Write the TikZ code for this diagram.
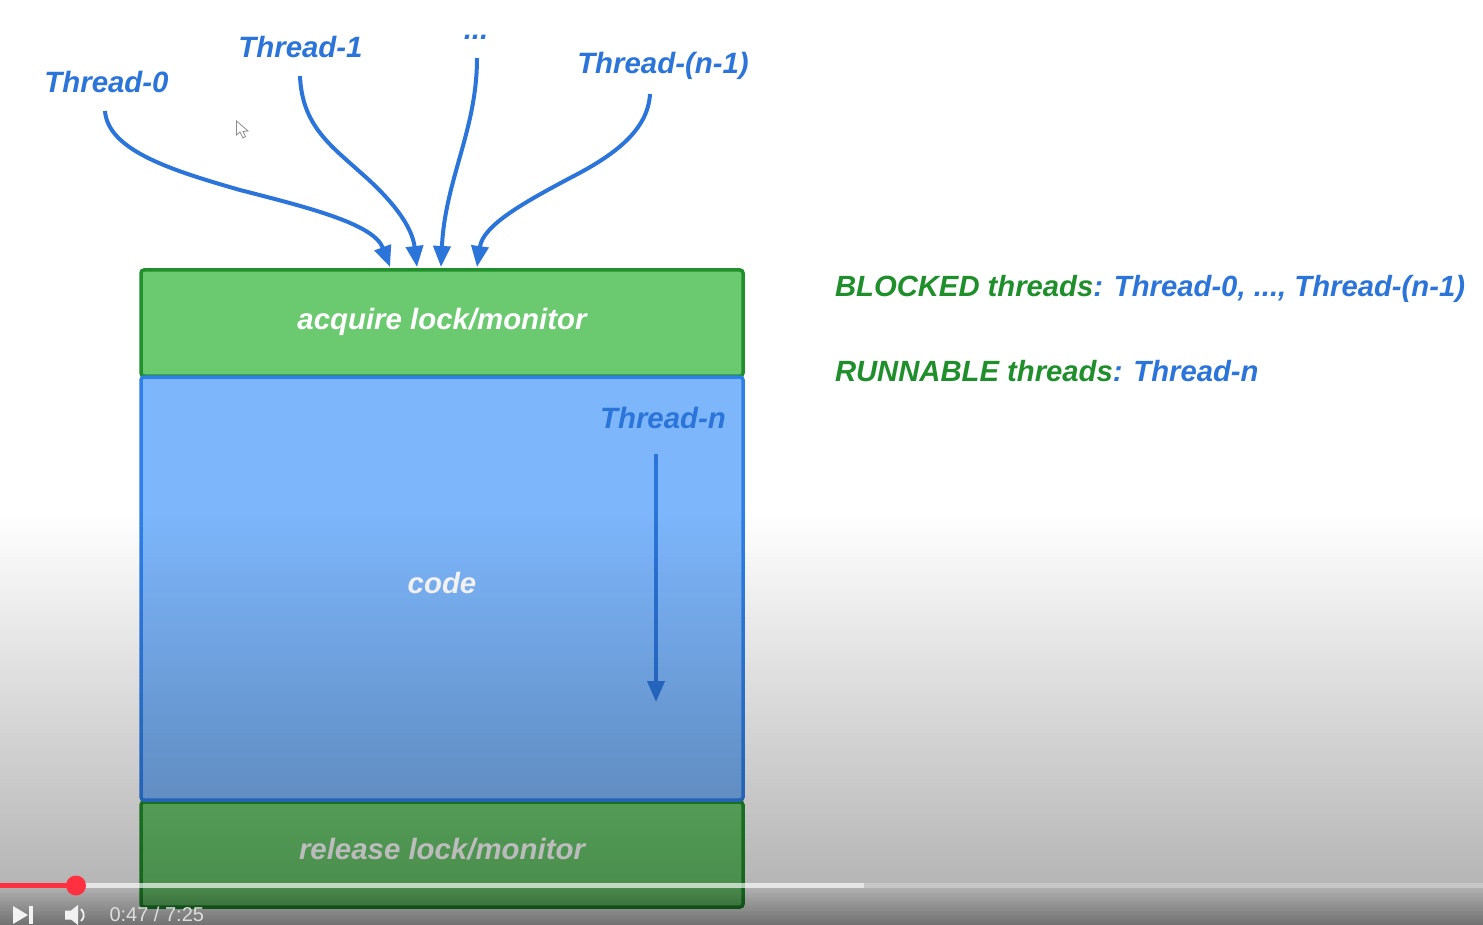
\documentclass[tikz,border=0pt]{standalone}
\usepackage{fontspec}
\setmainfont{Liberation Sans}
\usetikzlibrary{arrows.meta,fadings}
\definecolor{tblue}{HTML}{2B74D9}
\definecolor{tgreen}{HTML}{1F8F2B}
\definecolor{gfill}{HTML}{6BC96F}
\definecolor{gedge}{HTML}{21902C}
\definecolor{bfill}{HTML}{7DB6FB}
\definecolor{bedge}{HTML}{2F7FE8}
\definecolor{ytred}{HTML}{FF3040}
\tikzfading[name=fadedown, top color=transparent!100, bottom color=transparent!0]
\tikzset{
  every node/.style={font=\fontsize{29.4}{32}\selectfont\bfseries\itshape, inner sep=0pt, outer sep=0pt},
  lockbox/.style={draw=gedge, fill=gfill, line width=3.5pt, rounded corners=3pt},
  codebox/.style={draw=bedge, fill=bfill, line width=3.5pt, rounded corners=3pt},
  threadlabel/.style={text=tblue},
  boxlabel/.style={text=white},
  flow/.style={draw=tblue, line width=4pt, -{Triangle[length=21pt,width=17pt]}},
  info/.style={anchor=base west, text=tgreen, font=\fontsize{29.25}{32}\selectfont\bfseries\itshape},
  player/.style={text=black!13!white}
}
\begin{document}
\begin{tikzpicture}[x=1pt,y=-1pt]
\useasboundingbox (0,0) rectangle (1483,925);
\fill[white] (0,0) rectangle (1483,925);
% boxes
\node[lockbox, minimum width=602pt, minimum height=106pt, anchor=north west] (acq) at (141,270) {};
\node[lockbox, minimum width=602pt, minimum height=105pt, anchor=north west] (rel) at (141,802) {};
\node[codebox, minimum width=602pt, minimum height=423pt, anchor=north west] (code) at (141,377) {};
\node[boxlabel] (acqt) at (442,322) {acquire lock/monitor};
\node[boxlabel] (codet) at (442,583) {code};
\node[boxlabel] (relt) at (442,849) {release lock/monitor};
% thread labels
\node[threadlabel] (t0) at (106.5,82) {Thread-0};
\node[threadlabel] (t1) at (300.5,47) {Thread-1};
\node[threadlabel] (tdots) at (476,37) {...};
\node[threadlabel] (tn1) at (663,66) {Thread-(n-1)};
\node[threadlabel] (tn) at (663,418) {Thread-n};
% free ends
\coordinate (s0) at (105,111);
\coordinate (s1) at (300,76);
\coordinate (s2) at (477,58);
\coordinate (s3) at (650,94);
\coordinate (sn) at (656,454);
\coordinate (en) at (656,702);
\coordinate (e0) at (390,267);
\coordinate (e1) at (417,267);
\coordinate (e2) at (441,267);
\coordinate (e3) at (477,267);
% connectors
\draw[flow] (s0) .. controls (108,150) and (170,170) .. (240,190) .. controls (310,208) and (374,224) .. (e0);
\draw[flow] (s1) .. controls (302,125) and (330,145) .. (360,172) .. controls (390,198) and (412,225) .. (e1);
\draw[flow] (s2) .. controls (477,130) and (445,180) .. (e2);
\draw[flow] (s3) .. controls (648,130) and (615,155) .. (570,178) .. controls (525,202) and (483,225) .. (e3);
\draw[flow] (sn) -- (en);
% side text
\node[info] (blk) at (835,297) {BLOCKED threads\textcolor{tblue}{: Thread-0, ..., Thread-(n-1)}};
\node[info] (run) at (835,381) {RUNNABLE threads\textcolor{tblue}{: Thread-n}};
% mouse cursor
\draw[black!45, fill=white, line width=.8pt] (236.5,121) -- (236.5,135) -- (240,132) -- (243,138) -- (245.5,136.5) -- (243,131.5) -- (248,131) -- cycle;
% video gradient
\fill[black, opacity=.32, path fading=fadedown] (0,515) rectangle (1483,925);
\fill[black, opacity=.35, path fading=fadedown] (0,885) rectangle (1483,925);
% player
\fill[white, opacity=.25] (0,882.5) rectangle (1483,887.5);
\fill[white, opacity=.55] (0,882.5) rectangle (864,887.5);
\fill[ytred] (0,882.5) rectangle (76,887.5);
\fill[ytred] (76,885.5) circle (10);
\fill[white!95!black] (13,906) -- (13,924) -- (28,915) -- cycle;
\fill[white!95!black] (29,906) rectangle (33,924);
\fill[white!95!black] (65,910.5) -- (71,910.5) -- (78,905) -- (78,925) -- (71,919.5) -- (65,919.5) -- cycle;
\draw[white!95!black, line width=1.8pt] (81,909) arc (-50:50:7.8);
\node[player, anchor=base west, font=\fontsize{20}{22}\selectfont] (time) at (109.5,921) {0:47 / 7:25};
\end{tikzpicture}
\end{document}
